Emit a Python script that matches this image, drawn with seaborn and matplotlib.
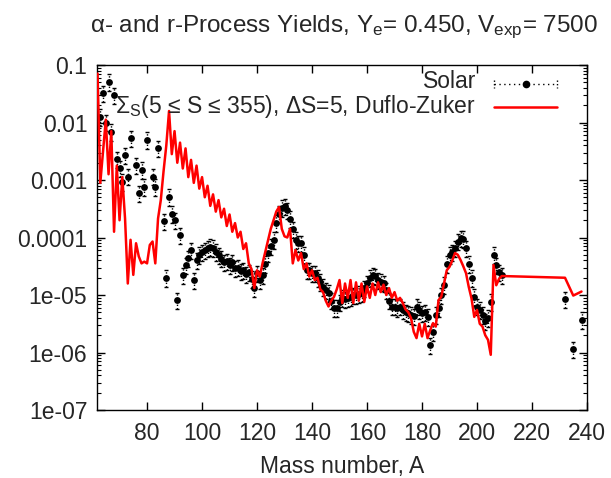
import numpy as np
import pandas as pd
import seaborn as sns
import matplotlib
matplotlib.use("Agg")
import matplotlib.pyplot as plt
from matplotlib.ticker import LogLocator, NullFormatter
from matplotlib.lines import Line2D

# ---------------- data ----------------
A_solar = [63, 64, 65, 66, 67, 68, 69, 70, 71, 72, 73, 74, 76, 77, 78, 79, 80, 82, 83, 84,
           86, 87, 88, 89, 90, 91, 92, 93, 94, 95, 96, 97] + list(range(98, 210)) + [232, 235, 238]
Y_solar = [1.26e-2, 3.2e-2, 1.0e-2, 5.1e-2, 6.9e-3, 3.0e-2, 2.3e-3, 1.6e-3, 9.3e-4, 2.7e-3,
           1.15e-3, 5.3e-3, 1.8e-3, 5.9e-4, 1.5e-3, 7.6e-4, 5.0e-3, 1.15e-3, 7.6e-4, 3.6e-3,
           1.9e-4, 2.0e-5, 5.1e-4, 2.6e-4, 2.0e-4, 8.1e-6, 1.1e-4, 2.2e-5, 3.3e-5, 4.4e-5,
           6.0e-5, 1.8e-5,
           # 98-117
           4.0e-5, 5.0e-5, 5.5e-5, 6.0e-5, 6.5e-5, 6.9e-5, 6.6e-5, 5.6e-5, 4.9e-5, 4.3e-5,
           3.7e-5, 3.9e-5, 3.3e-5, 3.7e-5, 2.9e-5, 3.0e-5, 2.6e-5, 2.7e-5, 2.3e-5, 2.5e-5,
           # 118-137
           1.9e-5, 1.3e-5, 2.4e-5, 1.8e-5, 2.2e-5, 3.5e-5, 5.4e-5, 7.0e-5, 9.1e-5, 1.8e-4,
           2.6e-4, 3.3e-4, 3.5e-4, 3.0e-4, 2.1e-4, 1.4e-4, 9.1e-5, 8.0e-5, 7.9e-5, 5.0e-5,
           # 138-157
           2.7e-5, 2.7e-5, 2.4e-5, 2.4e-5, 2.0e-5, 1.7e-5, 1.4e-5, 1.2e-5, 1.1e-5, 8.0e-6,
           6.0e-6, 6.0e-6, 7.5e-6, 9.0e-6, 8.5e-6, 9.0e-6, 9.3e-6, 1.0e-5, 1.0e-5, 1.05e-5,
           # 158-177
           1.07e-5, 1.3e-5, 1.6e-5, 2.0e-5, 2.2e-5, 2.1e-5, 1.8e-5, 1.7e-5, 1.6e-5, 1.2e-5,
           8.0e-6, 6.3e-6, 6.3e-6, 6.0e-6, 6.3e-6, 5.5e-6, 5.0e-6, 4.8e-6, 4.5e-6, 4.3e-6,
           # 178-197
           6.3e-6, 5.5e-6, 4.8e-6, 5.0e-6, 4.2e-6, 1.35e-6, 2.3e-6, 4.5e-6, 6.0e-6, 1.0e-5,
           1.5e-5, 3.5e-5, 5.0e-5, 5.5e-5, 6.5e-5, 8.5e-5, 9.8e-5, 9.5e-5, 6.5e-5, 3.5e-5,
           # 198-209
           2.0e-5, 9.3e-6, 6.3e-6, 5.5e-6, 4.5e-6, 3.5e-6, 4.0e-6, 7.6e-6, 5.0e-5, 3.3e-5,
           2.5e-5, 2.2e-5,
           # actinides
           8.5e-6, 1.15e-6, 3.7e-6]

A_model = list(range(62, 210)) + [232, 235, 238]
model_log10 = [
    # 62-81
    -1.15, -3.05, -2.50, -1.95, -2.90, -2.15, -3.90, -2.75, -3.70, -2.95,
    -3.67, -4.80, -4.04, -4.65, -4.10, -4.33, -4.45, -4.42, -4.45, -4.13,
    # 82-87
    -4.07, -4.45, -3.67, -3.35, -2.85, -2.40,
    # 88-107
    -1.80, -2.55, -2.15, -2.70, -2.35, -2.80, -2.45, -2.95, -2.65, -3.05,
    -2.75, -3.15, -2.95, -3.30, -3.10, -3.45, -3.25, -3.55, -3.35, -3.65,
    # 108-121
    -3.50, -3.80, -3.60, -3.90, -3.75, -4.00, -3.90, -4.20, -4.10, -4.45,
    -4.55, -4.88, -4.57, -4.68,
    # 122-141
    -4.45, -4.25, -4.05, -3.85, -3.70, -3.55, -3.47, -3.85, -3.98, -4.00,
    -3.85, -4.45, -4.22, -4.40, -4.27, -4.55, -4.45, -4.68, -4.57, -4.74,
    # 142-161
    -4.70, -4.90, -4.95, -5.10, -5.20, -5.10, -5.03, -4.90, -4.74, -5.14,
    -4.80, -5.05, -4.74, -5.14, -4.78, -5.10, -4.80, -5.12, -4.85, -5.05,
    # 162-181
    -4.80, -5.00, -4.78, -4.95, -4.82, -5.00, -4.88, -5.05, -4.95, -5.10,
    -5.05, -5.14, -5.25, -5.30, -5.40, -5.64, -5.75, -5.50, -5.72, -5.50,
    # 182-201
    -5.75, -5.61, -5.49, -5.55, -5.09, -5.03, -4.80, -4.57, -4.51, -4.40,
    -4.27, -4.30, -4.39, -4.50, -4.62, -4.86, -5.06, -5.38, -5.26, -5.50,
    # 202-209
    -5.55, -5.70, -5.78, -6.04, -4.48, -4.83, -4.72, -4.67,
    # 232, 235, 238
    -4.70, -5.01, -4.94]
Y_model = np.power(10.0, model_log10)

x_ticks = [80, 100, 120, 140, 160, 180, 200, 220, 240]
y_ticks = [1e-1, 1e-2, 1e-3, 1e-4, 1e-5, 1e-6, 1e-7]
y_ticklabels = ["0.1", "0.01", "0.001", "0.0001", "1e-05", "1e-06", "1e-07"]

title = r"α- and r-Process Yields, Y$_\mathrm{e}$= 0.450, V$_\mathrm{exp}$= 7500"
label_solar = "Solar"
label_model = r"Σ$_\mathrm{S}$(5 ≤ S ≤ 355), ΔS=5, Duflo-Zuker"

# ---------------- style ----------------
sns.set_style("ticks")
plt.rcParams["font.family"] = ["Liberation Sans", "DejaVu Sans"]
plt.rcParams["mathtext.fontset"] = "custom"
plt.rcParams["mathtext.rm"] = "Liberation Sans"
plt.rcParams["mathtext.it"] = "Liberation Sans:italic"
FS = 16.5

W, H = 611, 478
fig = plt.figure(figsize=(W / 100, H / 100), dpi=100)
L, R, T, B = 97, 587, 65, 410
ax = fig.add_axes([L / W, 1 - B / H, (R - L) / W, (B - T) / H])

solar_df = pd.DataFrame({"A": A_solar, "Y": Y_solar})
model_df = pd.DataFrame({"A": A_model, "Y": Y_model})

# error bars (dotted)
Ys = np.asarray(Y_solar)
eb = ax.errorbar(solar_df["A"], solar_df["Y"], yerr=[0.3 * Ys, 0.35 * Ys], fmt="none",
                 ecolor="black", elinewidth=1.0, capsize=1.6, capthick=1.0, zorder=2)
for lc in eb[2]:
    lc.set_linestyle((0, (1, 1.5)))

sns.scatterplot(data=solar_df, x="A", y="Y", ax=ax, color="black", s=24,
                linewidth=0, zorder=3, legend=False)
sns.lineplot(data=model_df, x="A", y="Y", ax=ax, color="#ff0000", linewidth=1.8,
             estimator=None, sort=False, zorder=4, legend=False)

ax.set_yscale("log")
ax.set_xlim(61.8, 240)
ax.set_ylim(1e-7, 0.1)
ax.set_xticks(x_ticks)
ax.set_xticklabels([str(v) for v in x_ticks])
ax.set_yticks(y_ticks)
ax.set_yticklabels(y_ticklabels)
ax.yaxis.set_minor_locator(LogLocator(base=10, subs=np.arange(2, 10), numticks=20))
ax.yaxis.set_minor_formatter(NullFormatter())
ax.set_xlabel("")
ax.set_ylabel("")
ax.tick_params(which="both", direction="in", top=True, right=True, color="black")
ax.tick_params(which="major", length=6, width=1, labelsize=FS, pad=7)
ax.tick_params(which="minor", length=3, width=0.8)
ax.tick_params(axis="x", which="major", pad=9)
for s in ax.spines.values():
    s.set_visible(True)
    s.set_color("black")
    s.set_linewidth(1.0)

# title and x label
fig.text((L + R) / 2 / W + 0.004, 1 - 27 / H, title, ha="center", va="center", fontsize=17.5)
fig.text((L + R) / 2 / W, 1 - 466 / H, "Mass number, A", ha="center", va="center", fontsize=FS)

# key (gnuplot style: text right-aligned, sample on the right)
def fx(px):
    return px / W

def fy(py):
    return 1 - py / H

fig.text(fx(476), fy(82), label_solar, ha="right", va="center", fontsize=FS)
fig.text(fx(476), fy(106), label_model, ha="right", va="center", fontsize=FS)
fig.add_artist(Line2D([fx(494), fx(557)], [fy(84), fy(84)], color="black", lw=1.0,
                      linestyle=(0, (1, 2.5))))
for xc in (494, 557):
    fig.add_artist(Line2D([fx(xc), fx(xc)], [fy(80), fy(88)], color="black", lw=1.0,
                          linestyle=(0, (1, 1.5))))
fig.add_artist(Line2D([fx(525.5)], [fy(84)], color="black", marker="o", markersize=4.5,
                      linestyle="none"))
fig.add_artist(Line2D([fx(494), fx(557)], [fy(107), fy(107)], color="#ff0000", lw=1.8))

fig.savefig("out.png", dpi=100)
